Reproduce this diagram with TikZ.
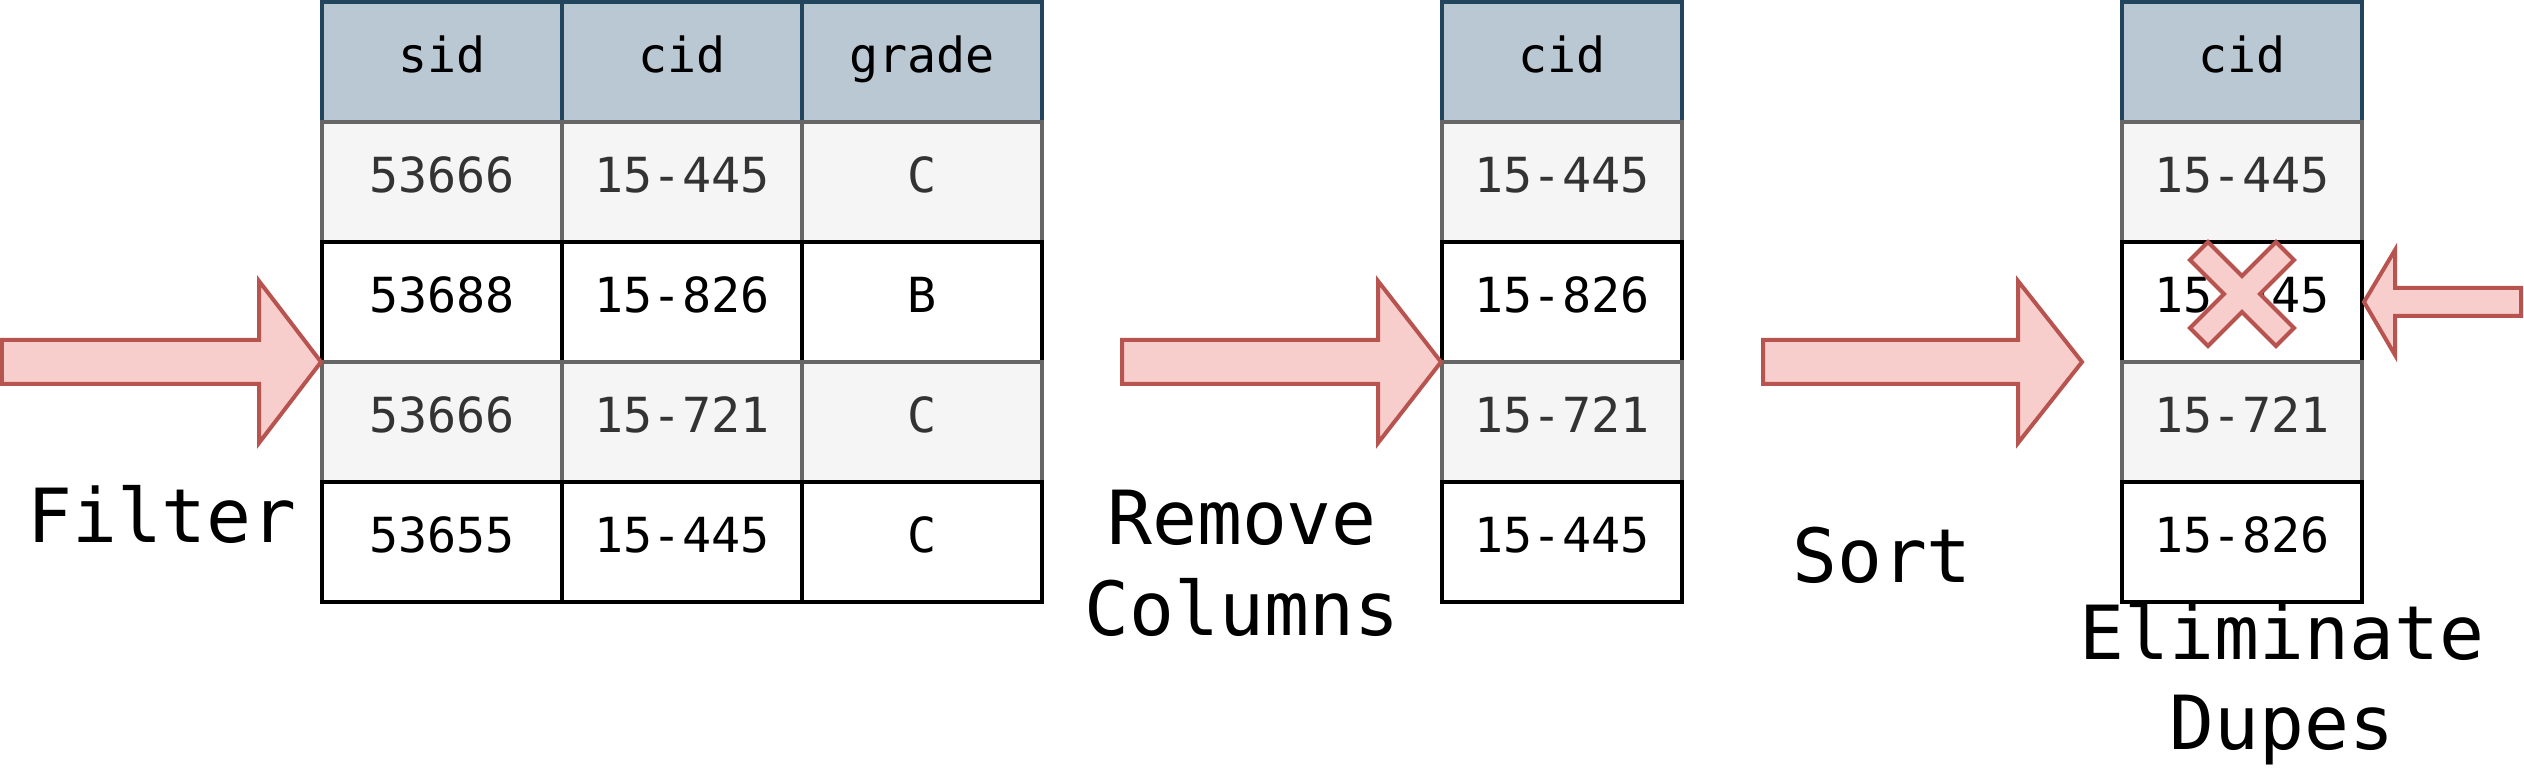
\documentclass[tikz,border=0pt]{standalone}
\usepackage{fontspec}
\setmainfont{DejaVu Sans Mono}
\definecolor{headfill}{HTML}{BAC8D3}
\definecolor{headline}{HTML}{23445D}
\definecolor{greyfill}{HTML}{F5F5F5}
\definecolor{greyline}{HTML}{666666}
\definecolor{greytext}{HTML}{333333}
\definecolor{arrowfill}{HTML}{F8CECC}
\definecolor{arrowline}{HTML}{B85450}
\begin{document}
\begin{tikzpicture}[x=0.3pt,y=-0.3pt,
	cell/.style={minimum width=72pt,minimum height=36pt,line width=1.2pt,text height=10.5pt,text depth=4.2pt,font=\fontsize{14.5}{17}\selectfont},
	head/.style={cell,draw=headline,fill=headfill},
	grey/.style={cell,draw=greyline,fill=greyfill,text=greytext},
	plain/.style={cell,draw=black,fill=white},
	bigarrow/.style={draw=arrowline,fill=arrowfill,line width=1.2pt},
	caption/.style={font=\fontsize{22.4}{27.3}\selectfont,align=center,anchor=base}]
					\tikzstyle{every node}+=[inner sep=0pt]
					\useasboundingbox (0,0) rectangle (2524,776);
					% first table
					\node [head] (sid) at (442,62) {sid};
					\node [head] (cid) at (682,62) {cid};
					\node [head] (grade) at (922,62) {grade};
					\node [grey] (sidA) at (442,182) {53666};
					\node [grey] (cidA) at (682,182) {15-445};
					\node [grey] (gradeA) at (922,182) {C};
					\node [plain] (sidB) at (442,302) {53688};
					\node [plain] (cidB) at (682,302) {15-826};
					\node [plain] (gradeB) at (922,302) {B};
					\node [grey] (sidC) at (442,422) {53666};
					\node [grey] (cidC) at (682,422) {15-721};
					\node [grey] (gradeC) at (922,422) {C};
					\node [plain] (sidD) at (442,542) {53655};
					\node [plain] (cidD) at (682,542) {15-445};
					\node [plain] (gradeD) at (922,542) {C};
					% second table
					\node [head] (proj) at (1562,62) {cid};
					\node [grey] (projA) at (1562,182) {15-445};
					\node [plain] (projB) at (1562,302) {15-826};
					\node [grey] (projC) at (1562,422) {15-721};
					\node [plain] (projD) at (1562,542) {15-445};
					% third table
					\node [head] (sorted) at (2242,62) {cid};
					\node [grey] (sortedA) at (2242,182) {15-445};
					\node [plain] (sortedB) at (2242,302) {15-445};
					\node [grey] (sortedC) at (2242,422) {15-721};
					\node [plain] (sortedD) at (2242,542) {15-826};
					% arrows
					\draw [bigarrow] (2,340) -- (259,340) -- (259,281) -- (321,362) -- (259,443) -- (259,384) -- (2,384) -- cycle;
					\draw [bigarrow] (1122,340) -- (1378,340) -- (1378,281) -- (1441,362) -- (1378,443) -- (1378,384) -- (1122,384) -- cycle;
					\draw [bigarrow] (1763,340) -- (2018,340) -- (2018,281) -- (2082,362) -- (2018,443) -- (2018,384) -- (1763,384) -- cycle;
					\draw [bigarrow] (2521,288) -- (2395,288) -- (2395,250) -- (2364,302) -- (2395,355) -- (2395,316) -- (2521,316) -- cycle;
					\draw [bigarrow,shift={(2242,294)}] (-52,-34) -- (-34,-52) -- (0,-18) -- (34,-52) -- (52,-34) -- (18,0) -- (52,34) -- (34,52) -- (0,18) -- (-34,52) -- (-52,34) -- (-18,0) -- cycle;
					% step names (base = last line)
					\node [caption] (filter) at (162,543) {Filter};
					\node [caption] (remove) at (1242,636) {Remove\\Columns};
					\node [caption] (sort) at (1882,583) {Sort};
					\node [caption] (dedup) at (2282,750) {Eliminate\\Dupes};
				\end{tikzpicture}
\end{document}
